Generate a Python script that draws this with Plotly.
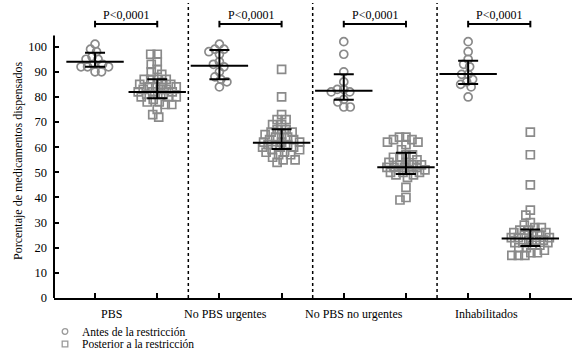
import plotly.graph_objects as go
import numpy as np

# ---------------- data ----------------
categories = ["PBS", "No PBS urgentes", "No PBS no urgentes", "Inhabilitados"]
series_names = ["Antes de la restricción", "Posterior a la restricción"]

pbs_antes = [101, 99, 98, 96, 95, 95, 93, 93, 92, 92, 92, 90, 90]
pbs_post = [97, 97, 94, 93, 91, 90, 89, 87, 87, 87, 87, 85, 85, 85, 84, 84, 84, 83, 83,
            83, 82, 82, 82, 81, 81, 81, 80, 80, 80, 79, 78, 78, 77, 77, 75, 73, 72]
urg_antes = [101, 99, 99, 98, 97, 94, 93, 92, 90, 88, 87, 86, 84]
urg_post = [91, 80, 73, 71, 71, 69, 69, 67, 67, 66, 66, 65, 65, 64, 64, 63, 63, 62, 62,
            62, 61, 61, 61, 60, 60, 60, 59, 59, 58, 58, 57, 57, 56, 55, 55, 54]
nourg_antes = [102, 97, 90, 86, 83, 83, 82, 82, 79, 78, 76, 76]
nourg_post = [64, 64, 63, 63, 62, 62, 61, 59, 57, 57, 56, 56, 55, 54, 54, 53, 53, 53, 52,
              52, 52, 52, 51, 51, 51, 50, 50, 50, 49, 49, 48, 44, 40, 39]
inhab_antes = [102, 98, 95, 93, 92, 89, 89, 87, 86, 85, 84, 80]
inhab_post = [66, 57, 45, 35, 33, 30, 29, 28, 28, 27, 27, 26, 26, 25, 25, 25, 24, 24, 24,
              23, 23, 23, 22, 22, 22, 21, 21, 20, 20, 19, 18, 18, 17, 17, 17]

median_antes = [94.0, 92.4, 82.5, 89.1]
q1_antes = [92.0, 87.0, 78.9, 85.2]
q3_antes = [97.6, 98.7, 89.0, 94.4]
median_post = [82.0, 61.8, 52.0, 23.7]
q1_post = [79.5, 59.3, 49.3, 20.7]
q3_post = [87.0, 67.1, 57.8, 27.3]

p_labels = ["P<0,0001", "P<0,0001", "P<0,0001", "P<0,0001"]
y_ticks = [0, 10, 20, 30, 40, 50, 60, 70, 80, 90, 100]
y_title = "Porcentaje de medicamentos dispensados"

antes_groups = [pbs_antes, urg_antes, nourg_antes, inhab_antes]
post_groups = [pbs_post, urg_post, nourg_post, inhab_post]

# ---------------- layout geometry ----------------
W, H = 581, 358
ML, MR, MT, MB = 54, 9, 9, 60
X_RANGE = [-0.66, 7.67]
Y_RANGE = [0, 115]
PW, PH = W - ML - MR, H - MT - MB
PX_X = PW / (X_RANGE[1] - X_RANGE[0])
PX_Y = PH / (Y_RANGE[1] - Y_RANGE[0])

FONT = "Liberation Serif, Times New Roman, serif"
GRAY = "#8a8a8a"
D = 6.5        # preferred spacing between marker centres (px)
MAXOFF = 19.0  # maximum horizontal spread from the centre (px)


def swarm(vals, center):
    order = np.argsort(-np.asarray(vals, dtype=float), kind="stable")
    placed = []
    xs = [0.0] * len(vals)
    cands = [0.0]
    k = 1
    while k * 0.5 <= MAXOFF:
        cands += [-k * 0.5, k * 0.5]
        k += 1
    for i in order:
        ypx = vals[i] * PX_Y
        best, best_score = None, -1
        for off in cands:
            md = min([((off - px) ** 2 + (ypx - py) ** 2) ** 0.5 for px, py in placed] + [1e9])
            if md >= D:
                best = off
                break
            if md > best_score:
                best_score, best = md, off
        placed.append((best, ypx))
        xs[i] = center + best / PX_X
    return xs


def paper_x(px):
    return (px - ML) / PW


def paper_y(py):
    return (H - MB - py) / PH


fig = go.Figure()

for i in range(len(categories)):
    xa, xp = 2 * i, 2 * i + 1
    fig.add_trace(go.Scatter(
        x=swarm(antes_groups[i], xa), y=antes_groups[i], mode="markers",
        marker=dict(symbol="circle-open", size=8, color=GRAY, line=dict(width=1.7)),
        showlegend=False, hoverinfo="y"))
    fig.add_trace(go.Scatter(
        x=swarm(post_groups[i], xp), y=post_groups[i], mode="markers",
        marker=dict(symbol="square-open", size=8, color=GRAY, line=dict(width=1.7)),
        showlegend=False, hoverinfo="y"))

# median + IQR
for med, q1, q3, off in [(median_antes, q1_antes, q3_antes, 0), (median_post, q1_post, q3_post, 1)]:
    xs = [2 * i + off for i in range(len(categories))]
    fig.add_trace(go.Scatter(
        x=xs, y=med, mode="markers",
        marker=dict(symbol="line-ew", size=41, color="black", line=dict(width=2, color="black")),
        error_y=dict(type="data", symmetric=False,
                     array=[b - m for b, m in zip(q3, med)],
                     arrayminus=[m - a for a, m in zip(q1, med)],
                     width=10, thickness=2, color="black"),
        showlegend=False, hoverinfo="y"))

shapes = []
annotations = []

# dotted separators
for s in [1.5, 3.5, 5.5]:
    shapes.append(dict(type="line", xref="x", yref="paper", x0=s, x1=s, y0=0, y1=paper_y(3),
                       line=dict(color="black", width=1.5, dash="dot")))

# y axis line
shapes.append(dict(type="line", xref="paper", yref="y", x0=0, x1=0, y0=0, y1=104.5,
                   line=dict(color="black", width=2)))

# p-value brackets
BR_Y = 109.0
for i, lab in enumerate(p_labels):
    xa, xp = 2 * i, 2 * i + 1
    shapes.append(dict(type="line", xref="x", yref="y", x0=xa, x1=xp, y0=BR_Y, y1=BR_Y,
                       line=dict(color="black", width=2)))
    for xx in (xa, xp):
        shapes.append(dict(type="line", xref="x", yref="y", x0=xx, x1=xx,
                           y0=BR_Y - 1.3, y1=BR_Y + 1.3, line=dict(color="black", width=2)))
    annotations.append(dict(x=(xa + xp) / 2, y=BR_Y, xref="x", yref="y", text=lab,
                            showarrow=False, yanchor="bottom", yshift=0,
                            font=dict(family=FONT, size=12, color="black")))

# category labels
label_shift = [-15, -25, -21, -13]
for i, cat in enumerate(categories):
    annotations.append(dict(x=2 * i + 0.5, y=paper_y(314), xref="x", yref="paper", text=cat,
                            showarrow=False, xshift=label_shift[i], yanchor="middle",
                            font=dict(family=FONT, size=12, color="black")))

# y axis title
annotations.append(dict(x=paper_x(18), y=paper_y(161), xref="paper", yref="paper", text=y_title,
                        showarrow=False, textangle=-90, xanchor="center", yanchor="middle",
                        font=dict(family=FONT, size=12, color="black")))

# legend (manual)
leg_y = [331.5, 344]
for j, name in enumerate(series_names):
    cx, cy = paper_x(65), paper_y(leg_y[j])
    shapes.append(dict(type="circle" if j == 0 else "rect", xref="paper", yref="paper",
                       xsizemode="pixel", ysizemode="pixel", xanchor=cx, yanchor=cy,
                       x0=-2.8, x1=2.8, y0=-2.8, y1=2.8,
                       line=dict(color="#9a9a9a", width=1.3), fillcolor="rgba(0,0,0,0)"))
    annotations.append(dict(x=paper_x(80), y=cy, xref="paper", yref="paper", text=name,
                            showarrow=False, xanchor="left", yanchor="middle",
                            font=dict(family=FONT, size=11.5, color="black")))

fig.update_layout(
    width=W, height=H,
    margin=dict(l=ML, r=MR, t=MT, b=MB, pad=0, autoexpand=False),
    paper_bgcolor="white", plot_bgcolor="white",
    showlegend=False,
    shapes=shapes, annotations=annotations,
    font=dict(family=FONT, size=12, color="black"),
    xaxis=dict(range=X_RANGE, tickvals=list(range(8)), showticklabels=False,
               ticks="inside", ticklen=5, tickwidth=1.5, tickcolor="black",
               showline=True, linewidth=2, linecolor="black", automargin=False,
               showgrid=False, zeroline=False, fixedrange=True),
    yaxis=dict(range=Y_RANGE, tickvals=y_ticks, ticktext=[str(v) for v in y_ticks],
               ticks="inside", ticklen=5, tickwidth=1.5, tickcolor="black",
               showline=False, showgrid=False, zeroline=False, ticklabelstandoff=6,
               tickfont=dict(family=FONT, size=12.5, color="black"), automargin=False,
               fixedrange=True),
)

fig.write_html("out.html", config={"displayModeBar": False},
               post_script="document.body.style.margin='0';document.body.style.padding='0';")
